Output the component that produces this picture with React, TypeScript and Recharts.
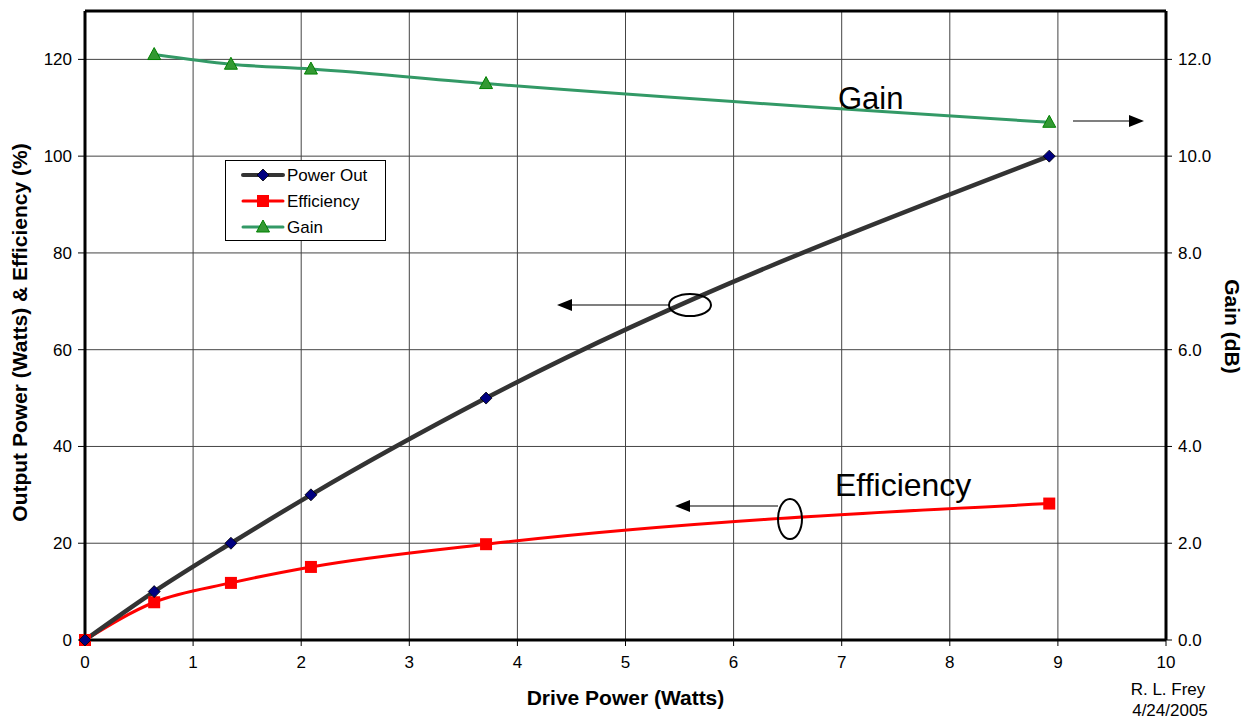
import {
  ComposedChart,
  Line,
  XAxis,
  YAxis,
  CartesianGrid,
  ReferenceLine,
  Label,
} from "recharts";

// values
const driveWatts = [0, 0.64, 1.35, 2.09, 3.71, 8.92];
const powerOut = [0, 10, 20, 30, 50, 100];
const efficiency = [0, 7.8, 11.8, 15.1, 19.8, 28.2];
const gainDb = [null, 12.1, 11.9, 11.8, 11.5, 10.7];

const xTicks = [0, 1, 2, 3, 4, 5, 6, 7, 8, 9, 10];
const leftTicks = [0, 20, 40, 60, 80, 100, 120];
const rightTicks = [0, 2, 4, 6, 8, 10, 12];

const data = driveWatts.map((x, i) => ({
  x,
  power: powerOut[i],
  eff: efficiency[i],
  gain: gainDb[i],
}));

const FONT = "'Liberation Sans', Arial, sans-serif";
const W = 1249;
const H = 721;

const Diamond = (p: any) => {
  if (p.cx == null || p.cy == null) return <g key={p.key ?? p.index} />;
  const { cx, cy } = p;
  return (
    <path
      key={p.key ?? p.index}
      d={`M${cx},${cy - 6} L${cx + 6},${cy} L${cx},${cy + 6} L${cx - 6},${cy} Z`}
      fill="#000080"
      stroke="#000"
      strokeWidth={0.8}
    />
  );
};

const Square = (p: any) => {
  if (p.cx == null || p.cy == null) return <g key={p.key ?? p.index} />;
  return (
    <rect key={p.key ?? p.index} x={p.cx - 6} y={p.cy - 6} width={12} height={12} fill="#ff0000" />
  );
};

const Triangle = (p: any) => {
  if (p.cx == null || p.cy == null) return <g key={p.key ?? p.index} />;
  const { cx, cy } = p;
  return (
    <path
      key={p.key ?? p.index}
      d={`M${cx},${cy - 7} L${cx + 6.5},${cy + 5} L${cx - 6.5},${cy + 5} Z`}
      fill="#339933"
      stroke="#008000"
      strokeWidth={1}
    />
  );
};

function LegendBox() {
  const rows = [
    { name: "Power Out", color: "#333333", w: 4, mark: <path d="M20,-6 L26,0 L20,6 L14,0 Z" fill="#000080" stroke="#000" strokeWidth={0.8} /> },
    { name: "Efficiency", color: "#ff0000", w: 3, mark: <rect x={14} y={-6} width={12} height={12} fill="#ff0000" /> },
    { name: "Gain", color: "#339966", w: 3, mark: <path d="M20,-7 L26.5,5 L13.5,5 Z" fill="#339933" stroke="#008000" /> },
  ];
  return (
    <div
      style={{
        position: "absolute",
        left: 225,
        top: 160,
        width: 159,
        height: 79,
        background: "#fff",
        border: "1px solid #000",
      }}
    >
      <svg width={159} height={79}>
        {rows.map((r, i) => (
          <g key={r.name} transform={`translate(17, ${14 + i * 26})`}>
            <line x1={0} x2={40} y1={0} y2={0} stroke={r.color} strokeWidth={r.w} strokeLinecap="round" />
            {r.mark}
            <text x={44} y={6} fontSize={17} fontFamily={FONT} fill="#000">
              {r.name}
            </text>
          </g>
        ))}
      </svg>
    </div>
  );
}

function Annotations() {
  return (
    <svg width={W} height={H} style={{ position: "absolute", left: 0, top: 0, pointerEvents: "none" }}>
      <text x={838} y={109} fontSize={31} fontFamily={FONT}>Gain</text>
      <line x1={1073} y1={121} x2={1130} y2={121} stroke="#000" strokeWidth={1.2} />
      <path d="M1144,121 L1129,115 L1129,127 Z" fill="#000" />

      <ellipse cx={690} cy={305} rx={21} ry={11} fill="none" stroke="#000" strokeWidth={2} />
      <line x1={669} y1={305} x2={570} y2={305} stroke="#000" strokeWidth={1.2} />
      <path d="M557,305 L572,299 L572,311 Z" fill="#000" />

      <text x={835} y={496} fontSize={32} fontFamily={FONT}>Efficiency</text>
      <ellipse cx={790} cy={519} rx={12} ry={20} fill="none" stroke="#000" strokeWidth={2} />
      <line x1={778} y1={506} x2={688} y2={506} stroke="#000" strokeWidth={1.2} />
      <path d="M675,506 L690,500 L690,512 Z" fill="#000" />

      <text x={1168} y={695} fontSize={17} fontFamily={FONT} textAnchor="middle">R. L. Frey</text>
      <text x={1170} y={716} fontSize={17} fontFamily={FONT} textAnchor="middle">4/24/2005</text>
    </svg>
  );
}

export default function App() {
  const tickStyle = { fontSize: 17, fontFamily: FONT, fill: "#000" };
  return (
    <div style={{ position: "absolute", left: 0, top: 0, width: W, height: H, background: "#fff" }}>
      <ComposedChart width={W} height={H} data={data} margin={{ top: 11, right: 0, bottom: 0, left: 0 }}>
        <CartesianGrid stroke="#444" strokeWidth={1} yAxisId="left" />
        <XAxis
          dataKey="x"
          type="number"
          domain={[0, 10]}
          ticks={xTicks}
          height={81}
          axisLine={{ stroke: "#000", strokeWidth: 3 }}
          tickLine={{ stroke: "#000" }}
          tickSize={6}
          tick={tickStyle}
          tickMargin={10}
        >
          <Label
            content={(props: any) => {
              const vb = props.viewBox;
              return (
                <text x={vb.x + vb.width / 2} y={705} textAnchor="middle" fontSize={21} fontWeight="bold" fontFamily={FONT}>
                  Drive Power (Watts)
                </text>
              );
            }}
          />
        </XAxis>
        <YAxis
          yAxisId="left"
          domain={[0, 130]}
          ticks={leftTicks}
          width={85}
          axisLine={{ stroke: "#000", strokeWidth: 3 }}
          tickLine={{ stroke: "#000" }}
          tickSize={7}
          tickMargin={6}
          tick={tickStyle}
        >
          <Label
            content={(props: any) => {
              const vb = props.viewBox;
              const cy = vb.y + vb.height / 2 + 7;
              return (
                <text
                  x={27}
                  y={cy}
                  transform={`rotate(-90, 27, ${cy})`}
                  textAnchor="middle"
                  fontSize={21}
                  fontWeight="bold"
                  fontFamily={FONT}
                >
                  Output Power (Watts) &amp; Efficiency (%)
                </text>
              );
            }}
          />
        </YAxis>
        <YAxis
          yAxisId="right"
          orientation="right"
          domain={[0, 13]}
          ticks={rightTicks}
          width={83}
          axisLine={{ stroke: "#000", strokeWidth: 3 }}
          tickLine={{ stroke: "#000" }}
          tickSize={6}
          tickMargin={6}
          tick={tickStyle}
          tickFormatter={(v: number) => v.toFixed(1)}
        >
          <Label
            content={(props: any) => {
              const vb = props.viewBox;
              const cy = vb.y + vb.height / 2 + 1;
              return (
                <text
                  x={1225}
                  y={cy}
                  transform={`rotate(90, 1225, ${cy})`}
                  textAnchor="middle"
                  fontSize={21}
                  fontWeight="bold"
                  fontFamily={FONT}
                >
                  Gain (dB)
                </text>
              );
            }}
          />
        </YAxis>
        <ReferenceLine yAxisId="left" y={130} stroke="#000" strokeWidth={3} />
        <Line
          yAxisId="right"
          dataKey="gain"
          type="monotone"
          stroke="#339966"
          strokeWidth={3}
          dot={Triangle}
          activeDot={false}
          connectNulls
          isAnimationActive={false}
        />
        <Line
          yAxisId="left"
          dataKey="eff"
          type="monotone"
          stroke="#ff0000"
          strokeWidth={3}
          dot={Square}
          activeDot={false}
          isAnimationActive={false}
        />
        <Line
          yAxisId="left"
          dataKey="power"
          type="monotone"
          stroke="#333333"
          strokeWidth={4.5}
          dot={Diamond}
          activeDot={false}
          isAnimationActive={false}
        />
      </ComposedChart>
      <LegendBox />
      <Annotations />
    </div>
  );
}
